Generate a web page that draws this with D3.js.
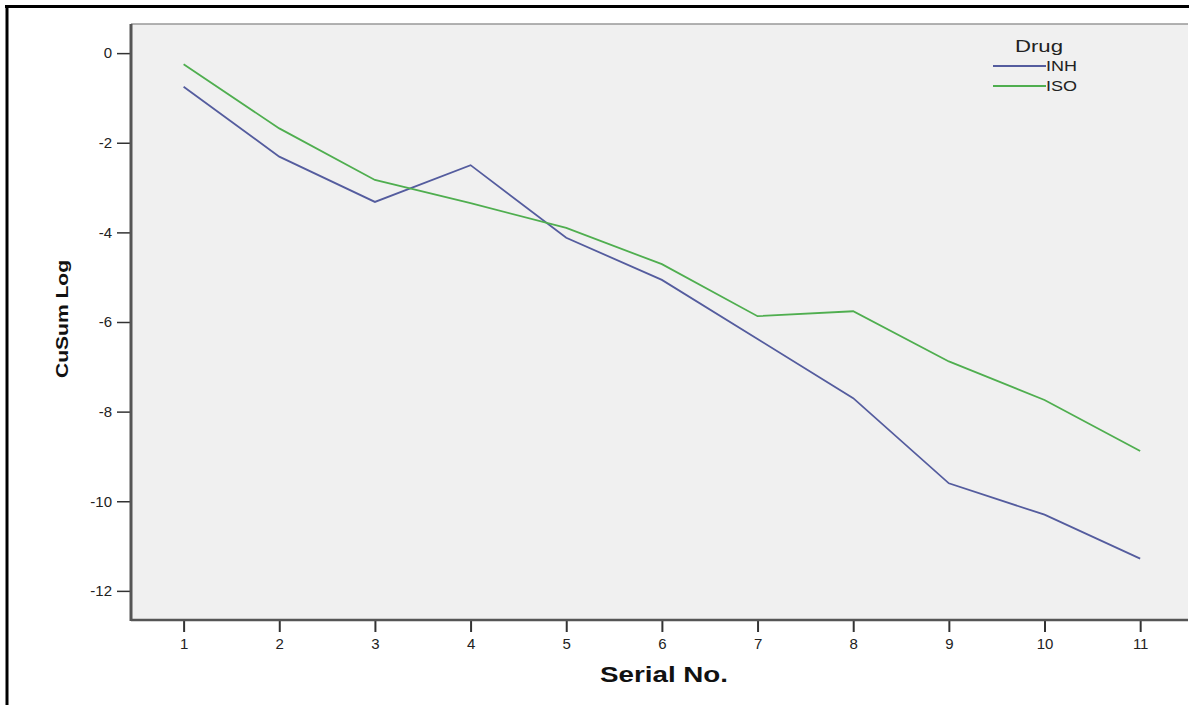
<!DOCTYPE html>
<html><head><meta charset="utf-8">
<script src="https://cdn.jsdelivr.net/npm/d3@7/dist/d3.min.js"></script>
<style>body{margin:0;background:#fff;}svg{display:block;font-family:"Liberation Sans",Arial,sans-serif;}</style>
</head><body>
<svg id="c" width="1189" height="705"></svg>
<script>
const serialNo = [1,2,3,4,5,6,7,8,9,10,11];
const inh = [-0.75,-2.31,-3.32,-2.5,-4.12,-5.06,-6.38,-7.7,-9.6,-10.3,-11.28];
const iso = [-0.25,-1.68,-2.83,-3.35,-3.9,-4.71,-5.87,-5.76,-6.88,-7.74,-8.88];
const yTicks = [0,-2,-4,-6,-8,-10,-12];
const seriesNames = ["INH","ISO"];
const seriesColors = ["#545c9e","#4fae4f"];

const svg = d3.select("#c");
const L=131, R=1188, T=24, B=620;
const x = d3.scaleLinear().domain([0.45,11.5]).range([L,R]);
const y = d3.scaleLinear().domain([-12.65,0.65]).range([B,T]);

// outer frame
svg.append("line").attr("x1",7).attr("x2",7).attr("y1",5).attr("y2",705).attr("stroke","#000").attr("stroke-width",3);
svg.append("line").attr("x1",5).attr("x2",1189).attr("y1",6.5).attr("y2",6.5).attr("stroke","#000").attr("stroke-width",3);

// plot bg
svg.append("rect").attr("x",L).attr("y",T).attr("width",R-L).attr("height",B-T).attr("fill","#f0f0f0");
svg.append("line").attr("x1",L).attr("x2",R).attr("y1",T).attr("y2",T).attr("stroke","#999").attr("stroke-width",1.5);

// axes
const fmt = d => String(d);
const yAxis = d3.axisLeft(y).tickValues(yTicks).tickSize(14).tickPadding(5).tickFormat(fmt);
const gy = svg.append("g").attr("transform",`translate(${L},0)`).call(yAxis);
const xAxis = d3.axisBottom(x).tickValues(serialNo).tickSize(12).tickPadding(6).tickFormat(fmt);
const gx = svg.append("g").attr("transform",`translate(0,${B})`).call(xAxis);
[gy,gx].forEach(g=>{
  g.select(".domain").remove();
  g.selectAll(".tick line").attr("stroke","#333").attr("stroke-width",2);
  g.selectAll(".tick text").attr("fill","#222")
    .style("font-size","15px").style("font-family","'Liberation Sans',Arial,sans-serif");
});
gy.selectAll(".tick line").attr("stroke-width",1.5);
svg.append("line").attr("x1",L).attr("x2",L).attr("y1",T).attr("y2",B+1).attr("stroke","#555").attr("stroke-width",3);
svg.append("line").attr("x1",L).attr("x2",R).attr("y1",B).attr("y2",B).attr("stroke","#555").attr("stroke-width",2.5);

// lines
const line = d3.line().x((d,i)=>x(serialNo[i])).y(d=>y(d));
[inh,iso].forEach((s,k)=>{
  svg.append("path").datum(s).attr("d",line).attr("fill","none")
    .attr("stroke",seriesColors[k]).attr("stroke-width",1.8);
});

// axis titles
svg.append("text").attr("x",600).attr("y",682)
  .attr("textLength",128).attr("lengthAdjust","spacingAndGlyphs")
  .style("font-size","22px").style("font-weight","bold").attr("fill","#111").text("Serial No.");
svg.append("text").attr("transform","translate(68,378) rotate(-90)")
  .attr("textLength",118).attr("lengthAdjust","spacingAndGlyphs")
  .style("font-size","17px").style("font-weight","bold").attr("fill","#111").text("CuSum Log");

// legend
svg.append("text").attr("x",1015).attr("y",52)
  .attr("textLength",48).attr("lengthAdjust","spacingAndGlyphs")
  .style("font-size","17px").attr("fill","#222").text("Drug");
seriesNames.forEach((n,i)=>{
  const yy = 66 + i*20;
  svg.append("line").attr("x1",993).attr("x2",1046).attr("y1",yy).attr("y2",yy)
    .attr("stroke",seriesColors[i]).attr("stroke-width",1.8);
  svg.append("text").attr("x",1046).attr("y",yy+5)
    .attr("textLength",31).attr("lengthAdjust","spacingAndGlyphs")
    .style("font-size","14px").attr("fill","#222").text(n);
});
</script>
</body></html>
